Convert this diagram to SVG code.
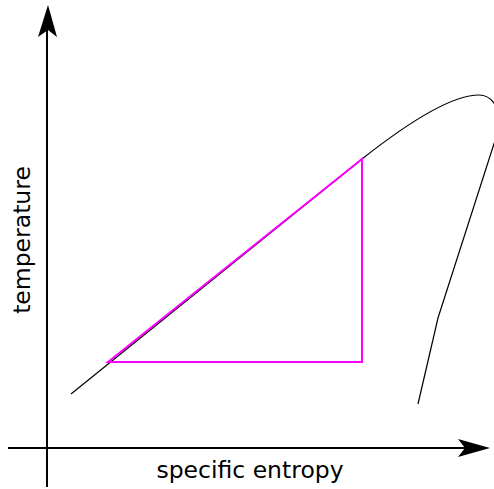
<svg xmlns="http://www.w3.org/2000/svg" width="494" height="489" viewBox="0 0 494 489">
<style>
.axis{stroke:#000;stroke-width:2;fill:none}
.curve{stroke:#000;stroke-width:1.2;fill:none}
.cycle{stroke:#ff00ff;stroke-width:2;fill:none;stroke-linejoin:miter}
.lbl{font-family:"DejaVu Sans",Verdana,sans-serif;font-size:23.5px;fill:#000}
</style>
<rect width="494" height="489" fill="#fff"/>
<g id="axes">
<line class="axis" x1="47" y1="487" x2="47" y2="30"/>
<path d="M48,5 L57,37 L48,30 L38,37 Z" fill="#000"/>
<line class="axis" x1="8" y1="448" x2="466" y2="448"/>
<path d="M490,448 L458,457 L465,448 L458,439 Z" fill="#000"/>
</g>
<g id="saturation-curve">
<path class="curve" d="M71,394 L362,159 C405,125 450,95 479,95 C490,95 496,103 500,115 L500,125 L438,318 L418,404"/>
</g>
<g id="cycle">
<path class="cycle" d="M108,362 L362,159 L362,362 Z"/>
</g>
<text class="lbl" x="250" y="478" text-anchor="middle">specific entropy</text>
<text class="lbl" transform="translate(30,240) rotate(-90)" text-anchor="middle">temperature</text>
</svg>
